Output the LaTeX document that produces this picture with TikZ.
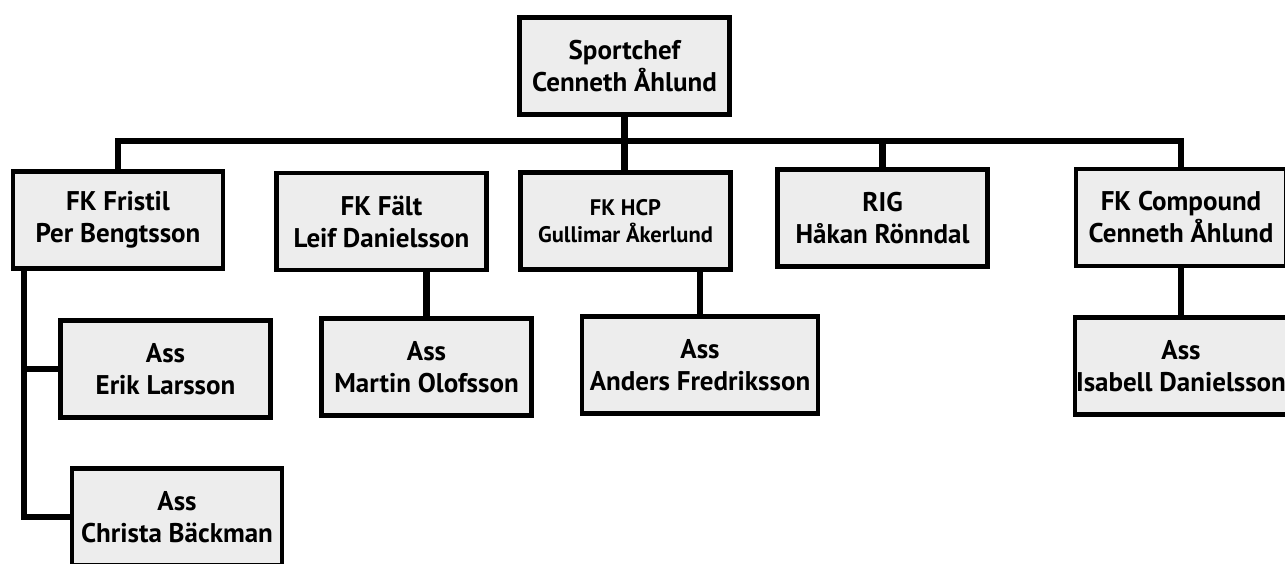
\documentclass[tikz,border=0pt]{standalone}
\usepackage{fontspec}
\setmainfont{PT Sans}
\usepackage{tikz}
\usetikzlibrary{positioning,calc}
\tikzstyle{ruta} = [rectangle, minimum width=210pt, minimum height=97pt, inner sep=1pt, align=center, text centered, draw=black, line width=4.5pt, fill=black!7, font=\bfseries\fontsize{27}{32}\selectfont]
\tikzstyle{linje} = [line width=6.5pt, line join=miter]

\begin{document}
\begin{tikzpicture}[x=1pt,y=-1pt]
						\useasboundingbox (0,0) rectangle (1285,564);
						\node (chef) at (624.5,66) [ruta] {Sportchef\\Cenneth Åhlund};
						\node (fristil) at (118,220) [ruta] {FK Fristil\\Per Bengtsson};
						\node (falt) at (381.5,221.5) [ruta] {FK Fält\\Leif Danielsson};
						\node (hcp) at (625.5,221) [ruta, font=\bfseries\fontsize{22.5}{27}\selectfont] {FK HCP\\Gullimar Åkerlund};
						\node (rig) at (882.5,218) [ruta] {RIG\\Håkan Rönndal};
						\node (comp) at (1181,217.5) [ruta] {FK Compound\\Cenneth Åhlund};
						\node (erik) at (165.5,369) [ruta] {Ass\\Erik Larsson};
						\node (christa) at (177,517) [ruta] {Ass\\Christa Bäckman};
						\node (martin) at (426.5,367) [ruta] {Ass\\Martin Olofsson};
						\node (anders) at (700,365) [ruta, minimum width=236pt] {Ass\\Anders Fredriksson};
						\node (isabell) at (1181,366) [ruta] {Ass\\Isabell Danielsson};
						\coordinate (buss) at (624.5,141);
						\coordinate (stam) at (24,520);
						\draw[linje] (fristil.north) |- (buss) -| (comp.north);
						\draw[linje] (chef.south) -- (chef.south |- hcp.north);
						\draw[linje] (rig.north) -- (rig.north |- buss);
						\draw[linje] (martin.north) -- (martin.north |- falt.south);
						\draw[linje] (anders.north) -- (anders.north |- hcp.south);
						\draw[linje] (comp.south) -- (isabell.north);
						\draw[linje] (stam |- fristil.south) |- (christa.west);
						\draw[linje] (stam |- erik.west) -- (erik.west);
					\end{tikzpicture}
\end{document}
